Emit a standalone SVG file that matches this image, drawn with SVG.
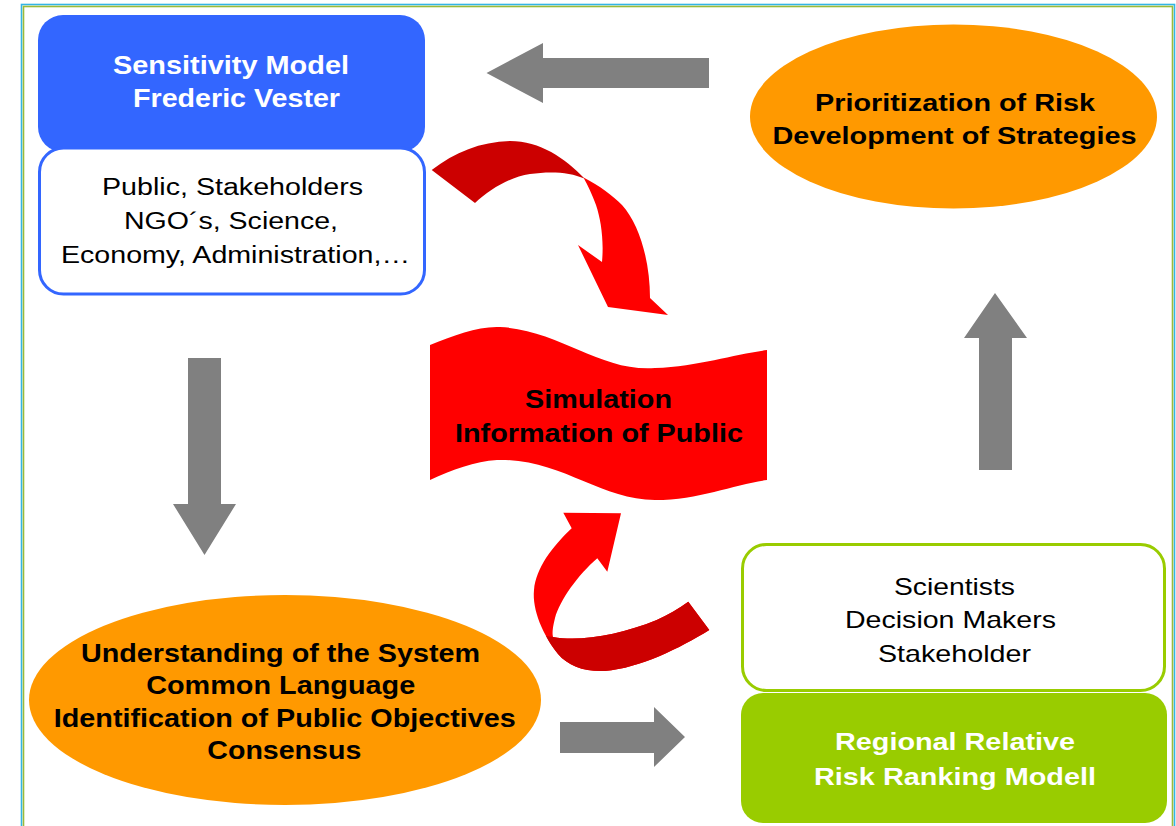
<svg xmlns="http://www.w3.org/2000/svg" width="1176" height="826" viewBox="0 0 1176 826">
<style>
.t{font-family:"Liberation Sans",Arial,sans-serif;text-anchor:middle}
.b{font-weight:bold}
.w{fill:#ffffff}
.k{fill:#000000}
.gray{fill:#808080}
.red{fill:#ff0000}
.dred{fill:#cc0000}
.orange{fill:#ff9900}
</style>
<rect x="0" y="0" width="1176" height="826" fill="#ffffff"/>
<g id="frame" fill="none">
<rect x="21.5" y="4.5" width="1153" height="900" stroke="#33b5e5" stroke-width="1.6"/>
<rect x="23.5" y="6.5" width="1149" height="900" stroke="#9bbb3b" stroke-width="1.6"/>
</g>
<g id="connectors">
<path class="gray" d="M709,58 L543,58 L543,43 L486.5,73 L543,103 L543,88 L709,88 Z"/>
<path class="gray" d="M188,358 L221,358 L221,504 L236,504 L204.5,555 L173,504 L188,504 Z"/>
<path class="gray" d="M560,722 L654,722 L654,707 L685,737 L654,767 L654,753 L560,753 Z"/>
<path class="gray" d="M979,470 L979,338 L964,338 L995,293 L1027,338 L1012,338 L1012,470 Z"/>
<g id="arrow-top-red">
<path class="dred" d="M431.7,170 C455,152 480,142 510,141 C540,141 565,158 584.5,178.5 C570,172 550,171 530,174 C510,177 490,189 475,203 Z"/>
<path class="red" d="M583.5,177.5 C600,186 612,195 622,205 C640,225 650,262 650,298 L668,315 L608,307 L578,245 L602,262 C604,240 601,220 596,205 C592,194 588,186 583.5,177.5 Z"/>
</g>
<g id="arrow-bottom-red">
<path class="red" d="M709.3,630 C680,648 640,668 605,671 C585,672 568,666 558,654 C543,635 532,610 534,590 C536,568 552,547 571.7,528.3 L563.3,512.7 L621,513.3 L607.3,571.7 L597.3,558.3 C578,575 560,600 555,618 C553,626 552,632 553,637 C580,642 620,635 656.7,620 C668,615 678,609 688.3,601.7 Z"/>
<path class="dred" d="M709.3,630 C680,648 640,668 605,671 C585,672 568,666 558,654 C553,648 549,642 546,636 L553,637 C580,642 620,635 656.7,620 C668,615 678,609 688.3,601.7 Z"/>
</g>
</g>
<g id="sensitivity-model">
<rect x="38" y="15" width="387" height="137" rx="25" fill="#3366ff"/>
<text class="t b w" font-size="26" x="231" y="74" textLength="236" lengthAdjust="spacingAndGlyphs">Sensitivity Model</text>
<text class="t b w" font-size="26" x="236.5" y="107" textLength="207" lengthAdjust="spacingAndGlyphs">Frederic Vester</text>
</g>
<g id="participants-top">
<rect x="39.5" y="148" width="385" height="146" rx="24" fill="#ffffff" stroke="#3366ff" stroke-width="3"/>
<text class="t k" font-size="23.5" x="232.5" y="195" textLength="261" lengthAdjust="spacingAndGlyphs">Public, Stakeholders</text>
<text class="t k" font-size="23.5" x="231" y="229" textLength="214" lengthAdjust="spacingAndGlyphs">NGO´s, Science,</text>
<text class="t k" font-size="23.5" x="235.5" y="263" textLength="349" lengthAdjust="spacingAndGlyphs">Economy, Administration,…</text>
</g>
<g id="prioritization">
<ellipse class="orange" cx="953.5" cy="116.5" rx="203.5" ry="92"/>
<text class="t b k" font-size="23.5" x="955" y="111" textLength="280" lengthAdjust="spacingAndGlyphs">Prioritization of Risk</text>
<text class="t b k" font-size="23.5" x="954.5" y="144" textLength="364" lengthAdjust="spacingAndGlyphs">Development of Strategies</text>
</g>
<g id="simulation">
<path class="red" d="M430,345 C455,335 478,326 500,327 C560,330 600,372 655,368 C700,366 735,354 767,350 L767,480 C735,484 700,500 655,500 C600,500 560,458 497,460 C475,461 452,470 430,480 Z"/>
<text class="t b k" font-size="25" x="598.5" y="408" textLength="147" lengthAdjust="spacingAndGlyphs">Simulation</text>
<text class="t b k" font-size="25" x="599" y="442" textLength="288" lengthAdjust="spacingAndGlyphs">Information of Public</text>
</g>
<g id="understanding">
<ellipse class="orange" cx="285" cy="700" rx="256" ry="105"/>
<text class="t b k" font-size="25" x="280.5" y="661.5" textLength="399" lengthAdjust="spacingAndGlyphs">Understanding of the System</text>
<text class="t b k" font-size="25" x="280.7" y="694" textLength="269" lengthAdjust="spacingAndGlyphs">Common Language</text>
<text class="t b k" font-size="25" x="284.8" y="726.5" textLength="462" lengthAdjust="spacingAndGlyphs">Identification of Public Objectives</text>
<text class="t b k" font-size="25" x="284.3" y="759" textLength="154" lengthAdjust="spacingAndGlyphs">Consensus</text>
</g>
<g id="participants-bottom">
<rect x="742.5" y="544.5" width="422" height="146" rx="24" fill="#ffffff" stroke="#99cc00" stroke-width="3"/>
<text class="t k" font-size="24" x="954.5" y="595" textLength="121" lengthAdjust="spacingAndGlyphs">Scientists</text>
<text class="t k" font-size="24" x="950.5" y="628" textLength="211" lengthAdjust="spacingAndGlyphs">Decision Makers</text>
<text class="t k" font-size="24" x="954.5" y="662" textLength="153" lengthAdjust="spacingAndGlyphs">Stakeholder</text>
</g>
<g id="risk-ranking">
<rect x="741" y="693" width="426" height="130" rx="22" fill="#99cc00"/>
<text class="t b w" font-size="24" x="955" y="750" textLength="240" lengthAdjust="spacingAndGlyphs">Regional Relative</text>
<text class="t b w" font-size="24" x="955" y="785" textLength="282" lengthAdjust="spacingAndGlyphs">Risk Ranking Modell</text>
</g>
</svg>
